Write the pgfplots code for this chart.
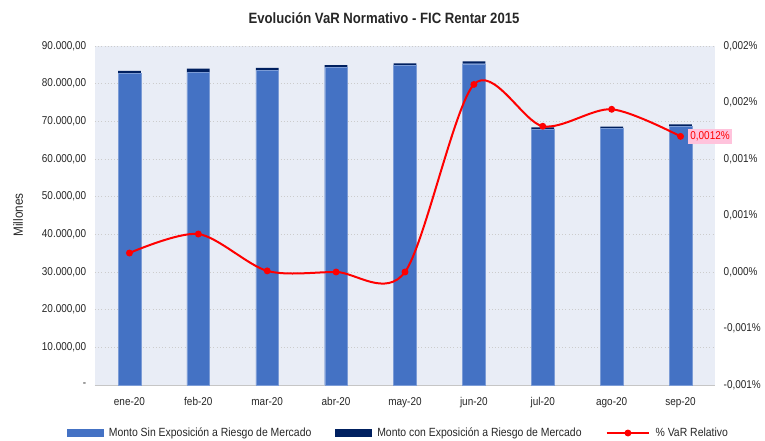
\documentclass[border=0pt]{standalone}
\usepackage{fontspec}
\setmainfont{Liberation Sans}[FakeStretch=0.88]
\usepackage{pgfplots}
\pgfplotsset{compat=1.18}
\definecolor{barblue}{HTML}{4472C4}
\definecolor{barnavy}{HTML}{002060}
\definecolor{bgblue}{HTML}{E9EDF6}
\definecolor{labelpink}{HTML}{FFC3DC}
\definecolor{txt}{HTML}{262626}
\begin{document}
\begin{tikzpicture}
\path[use as bounding box] (0,0) rectangle (573.75pt,330pt);
\node[font=\bfseries\fontsize{11.2}{13}\selectfont, text=txt] at (288pt,316.5pt) {Evolución VaR Normativo - FIC Rentar 2015};
\node[rotate=90, font=\fontsize{10}{12}\selectfont, text=txt] at (13.5pt,168.75pt) {Millones};
\begin{axis}[
  at={(71.25pt,41.25pt)}, anchor=south west,
  scale only axis, width=465pt, height=254.25pt,
  xmin=-0.5, xmax=8.5, ymin=0, ymax=90000,
  ybar stacked, bar width=0.33,
  axis background/.style={fill=bgblue},
  axis x line*=bottom, axis y line*=left,
  x axis line style={draw=gray!45, -},
  y axis line style={draw=none},
  tick style={draw=none},
  scaled y ticks=false,
  xtick={0,...,8},
  xticklabels={ene-20,feb-20,mar-20,abr-20,may-20,jun-20,jul-20,ago-20,sep-20},
  ytick={0,10000,...,90000},
  yticklabels={-,{10.000,00},{20.000,00},{30.000,00},{40.000,00},{50.000,00},{60.000,00},{70.000,00},{80.000,00},{90.000,00}},
  ymajorgrids, grid style={dotted, gray!40},
  tick label style={font=\fontsize{8.5}{10}\selectfont, text=txt},
  xticklabel style={yshift=-6pt},
  yticklabel style={xshift=-3pt},
]
\addplot[fill=barblue, draw=barblue!70!white, line width=0.3pt] coordinates {(0,82700) (1,83000) (2,83600) (3,84300) (4,84800) (5,85300) (6,67900) (7,68100) (8,68700)};
\addplot[fill=barnavy, draw=none] coordinates {(0,700) (1,1000) (2,600) (3,600) (4,600) (5,600) (6,500) (7,500) (8,500)};
\end{axis}
\begin{axis}[
  at={(71.25pt,41.25pt)}, anchor=south west,
  scale only axis, width=465pt, height=254.25pt,
  xmin=-0.5, xmax=8.5, ymin=-0.001, ymax=0.002,
  clip=false,
  axis y line*=right, hide x axis,
  y axis line style={draw=none},
  tick style={draw=none},
  scaled y ticks=false,
  ytick={-0.001,-0.0005,0,0.0005,0.001,0.0015,0.002},
  yticklabels={{-0,001\%},{-0,001\%},{0,000\%},{0,001\%},{0,001\%},{0,002\%},{0,002\%}},
  tick label style={font=\fontsize{8.5}{10}\selectfont, text=txt},
  yticklabel style={xshift=3pt},
  legend columns=6,
  legend style={at={(0.49,-0.1416)}, anchor=center, draw=none, fill=none,
    font=\fontsize{8.9}{10}\selectfont, text=txt,
    /tikz/every odd column/.append style={column sep=2pt},
    /tikz/every even column/.append style={column sep=16pt}},
]
\addlegendimage{legend image code/.code={\fill[barblue] (0pt,-2.6pt) rectangle (27pt,2.6pt);}}
\addlegendentry{Monto Sin Exposición a Riesgo de Mercado}
\addlegendimage{legend image code/.code={\fill[barnavy] (0pt,-2.6pt) rectangle (27pt,2.6pt);}}
\addlegendentry{Monto con Exposición a Riesgo de Mercado}
\addplot[red, line width=1.5pt, smooth, tension=0.5, mark=*, mark size=1.8pt, mark options={fill=red},
  legend image code/.code={\draw[red, line width=1.5pt] (0pt,0pt) -- (32pt,0pt); \fill[red] (16pt,0pt) circle (1.8pt);}]
  coordinates {(0,0.000168) (1,0.000336) (2,0.00001) (3,0.0) (4,0.0) (5,0.00166) (6,0.00129) (7,0.00144) (8,0.0012)};
\addlegendentry{\% VaR Relativo}
\node[anchor=west, fill=labelpink, text=red, inner sep=2pt, font=\fontsize{8.5}{10}\selectfont] at (axis cs:8.1,0.0012) {0,0012\%};
\end{axis}
\end{tikzpicture}
\end{document}
